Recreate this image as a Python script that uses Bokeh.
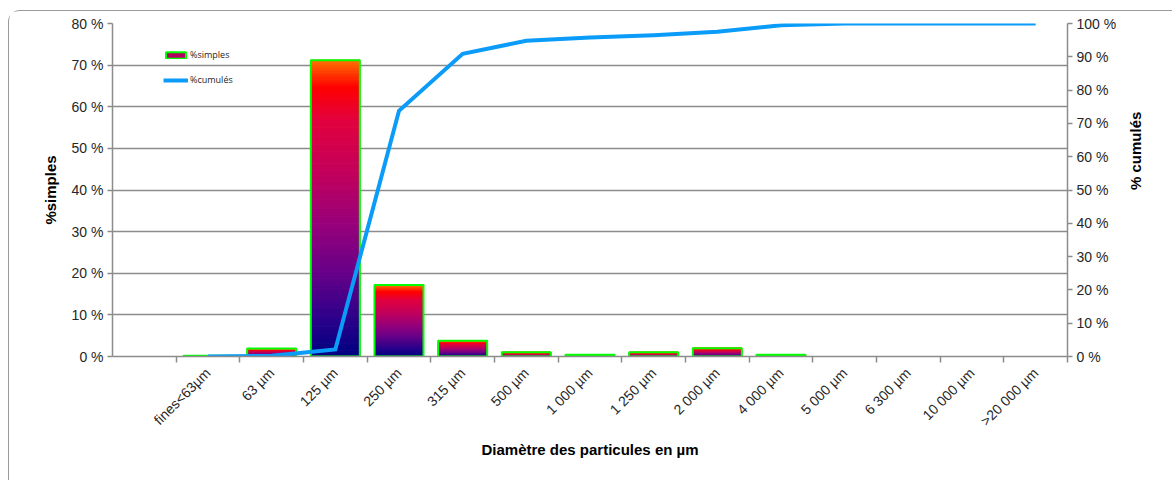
import math
from bokeh.plotting import figure
from bokeh.models import (Range1d, LinearAxis, FixedTicker, PrintfTickFormatter,
                          Legend, LegendItem, ColumnDataSource)
from bokeh.embed import file_html
from bokeh.resources import INLINE

# ---------------- data ----------------
categories = ["fines<63µm", "63 µm", "125 µm", "250 µm", "315 µm", "500 µm",
              "1 000 µm", "1 250 µm", "2 000 µm", "4 000 µm", "5 000 µm",
              "6 300 µm", "10 000 µm", ">20 000 µm"]
simples = [0.2, 1.9, 71.2, 17.2, 3.8, 1.0, 0.4, 1.0, 2.0, 0.4, 0, 0, 0, 0]
cumules = [0.0, 0.2, 2.1, 73.8, 90.9, 94.8, 95.8, 96.5, 97.5, 99.5, 100, 100, 100, 100]
left_ticks = [0, 10, 20, 30, 40, 50, 60, 70, 80]
right_ticks = [0, 10, 20, 30, 40, 50, 60, 70, 80, 90, 100]

# ---------------- styles ----------------
FONT = "Liberation Sans"
GRID = "#8C8C8C"
TXT = "#262626"
LINE_BLUE = "#0A9CF8"
OUTLINE_GREEN = "#00FF00"
stops = [(0.00, "#FF7000"), (0.09, "#FF0000"), (0.20, "#E2003E"), (0.37, "#C4005A"),
         (0.55, "#98007A"), (0.72, "#660089"), (0.88, "#28008A"), (1.00, "#000080")]
OFFSET = 1          # one empty slot before the first category
BAR_W = 0.77
N_SLICES = 140


def hex2rgb(h):
    h = h.lstrip("#")
    return tuple(int(h[i:i + 2], 16) for i in (0, 2, 4))


def grad(t):
    for (t0, c0), (t1, c1) in zip(stops[:-1], stops[1:]):
        if t <= t1:
            f = 0 if t1 == t0 else (t - t0) / (t1 - t0)
            a, b = hex2rgb(c0), hex2rgb(c1)
            return "#%02x%02x%02x" % tuple(round(a[i] + (b[i] - a[i]) * f) for i in range(3))
    return stops[-1][1]


n = len(categories)
centers = [i + OFFSET + 0.5 for i in range(n)]

p = figure(width=1164, height=470, output_backend="svg", toolbar_location=None,
           x_range=Range1d(0, n + OFFSET), y_range=Range1d(0, 80),
           min_border_left=103, min_border_right=106, min_border_top=12,
           min_border_bottom=125, outline_line_color=None,
           background_fill_color="white", border_fill_color="white")
p.styles = {"margin-left": "8px", "margin-top": "10px",
            "border-left": "1px solid #9a9a9a", "border-top": "1px solid #9a9a9a",
            "border-top-left-radius": "12px"}
p.extra_y_ranges = {"cum": Range1d(0, 100)}

# gradient bars built from slices
sl_l, sl_r, sl_b, sl_t, sl_c = [], [], [], [], []
for c, v in zip(centers, simples):
    if v <= 0:
        continue
    for k in range(N_SLICES):
        b = v * k / N_SLICES
        t = v * (k + 1) / N_SLICES
        sl_l.append(c - BAR_W / 2)
        sl_r.append(c + BAR_W / 2)
        sl_b.append(b)
        sl_t.append(t)
        sl_c.append(grad(1 - (k + 0.5) / N_SLICES))
p.quad(left="l", right="r", bottom="b", top="t", fill_color="c", line_color="c",
       line_width=1,
       source=ColumnDataSource(dict(l=sl_l, r=sl_r, b=sl_b, t=sl_t, c=sl_c)))

bar_x = [c for c, v in zip(centers, simples) if v > 0]
bar_v = [v for v in simples if v > 0]
p.quad(left=[x - BAR_W / 2 for x in bar_x], right=[x + BAR_W / 2 for x in bar_x],
       bottom=0, top=bar_v, fill_color=None, line_color=OUTLINE_GREEN, line_width=2)

line_r = p.line(centers, cumules, y_range_name="cum", line_color=LINE_BLUE,
                line_width=4, line_join="miter")

# legend (proxy glyph for the bar series, placed outside the visible range)
leg_bar = p.quad(left=[-3], right=[-2], bottom=[-3], top=[-2], fill_color="#B0005F",
                 line_color=OUTLINE_GREEN, line_width=2)
legend = Legend(items=[LegendItem(label="%simples", renderers=[leg_bar]),
                       LegendItem(label="%cumulés", renderers=[line_r])],
                location=(51, 270), label_text_font_size="9px",
                label_text_font="Open Sans", label_text_color=TXT,
                glyph_width=25, glyph_height=8, label_height=10, spacing=12,
                padding=0, margin=0, label_standoff=2,
                border_line_color=None, background_fill_alpha=0)
p.add_layout(legend)

# grid
p.xgrid.visible = False
p.ygrid.grid_line_color = GRID
p.ygrid.grid_line_width = 1.5

# left axis
ly = p.yaxis[0]
ly.ticker = FixedTicker(ticks=left_ticks)
ly.formatter = PrintfTickFormatter(format="%d %%")
ly.axis_label = "%simples"

# right axis
ry = LinearAxis(y_range_name="cum", ticker=FixedTicker(ticks=right_ticks),
                formatter=PrintfTickFormatter(format="%d %%"), axis_label="% cumulés")
try:
    ry.axis_label_orientation = math.pi / 2
except Exception:
    pass
p.add_layout(ry, "right")

# bottom axis
bx = p.xaxis[0]
bx.ticker = FixedTicker(ticks=centers, minor_ticks=list(range(1, n + OFFSET + 1)))
bx.major_label_overrides = {c: lab for c, lab in zip(centers, categories)}
bx.major_label_orientation = math.pi / 4
bx.major_tick_line_color = None
bx.major_tick_out = 0
bx.major_label_standoff = 8
bx.minor_tick_out = 6
bx.minor_tick_in = 0
bx.minor_tick_line_color = GRID
bx.minor_tick_line_width = 1.5
bx.axis_label = "Diamètre des particules en µm"
bx.axis_label_standoff = 3

for ax in (ly, ry, bx):
    ax.axis_line_color = GRID
    ax.axis_line_width = 1.5
    ax.major_label_text_font = FONT
    ax.major_label_text_font_size = "14px"
    ax.major_label_text_color = TXT
    ax.axis_label_text_font = FONT
    ax.axis_label_text_font_size = "15px"
    ax.axis_label_text_font_style = "bold"
    ax.axis_label_text_color = "#000000"
for ax in (ly, ry):
    ax.major_tick_line_color = GRID
    ax.major_tick_line_width = 1.5
    ax.major_tick_out = 5
    ax.major_tick_in = 0
    ax.minor_tick_line_color = None
    ax.major_label_standoff = 4
ly.axis_label_standoff = 10
ry.axis_label_standoff = 16

open("out.html", "w").write(file_html(p, INLINE))
